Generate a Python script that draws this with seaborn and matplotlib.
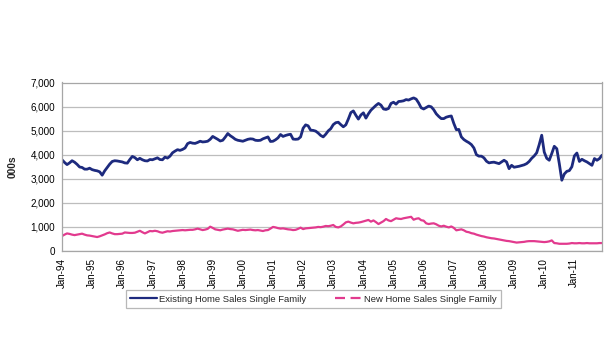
import matplotlib
matplotlib.use("Agg")
import matplotlib.pyplot as plt
from matplotlib.lines import Line2D
from matplotlib.ticker import FuncFormatter
import seaborn as sns
import pandas as pd
import numpy as np

# ---- data (monthly, Jan-94 .. Dec-11), thousands of units ----
start_year = 1994
n_years = 18
existing_home_sales = [
    3790, 3680, 3590, 3660, 3750, 3690, 3600, 3490, 3470, 3400, 3400, 3440,  # 1994
    3380, 3350, 3330, 3290, 3150, 3330, 3470, 3610, 3720, 3750, 3740, 3720,  # 1995
    3700, 3660, 3650, 3800, 3930, 3880, 3790, 3850, 3790, 3750, 3740, 3800,  # 1996
    3790, 3830, 3870, 3800, 3790, 3900, 3860, 3940, 4080, 4150, 4210, 4180,  # 1997
    4220, 4280, 4460, 4510, 4480, 4470, 4510, 4560, 4530, 4540, 4560, 4640,  # 1998
    4760, 4700, 4640, 4570, 4600, 4730, 4880, 4790, 4720, 4640, 4600, 4580,  # 1999
    4560, 4600, 4640, 4660, 4650, 4600, 4590, 4600, 4660, 4700, 4740, 4550,  # 2000
    4560, 4620, 4700, 4840, 4760, 4800, 4830, 4850, 4650, 4640, 4650, 4740,  # 2001
    5100, 5240, 5200, 5020, 5010, 4980, 4900, 4800, 4740, 4850, 4990, 5080,  # 2002
    5250, 5330, 5350, 5250, 5160, 5240, 5480, 5750, 5820, 5640, 5480, 5650,  # 2003
    5740, 5520, 5700, 5850, 5950, 6050, 6130, 6060, 5900, 5880, 5920, 6130,  # 2004
    6180, 6100, 6210, 6220, 6240, 6290, 6270, 6320, 6360, 6310, 6150, 5950,  # 2005
    5900, 5960, 6020, 5990, 5870, 5700, 5590, 5500, 5500, 5560, 5590, 5610,  # 2006
    5300, 5040, 5050, 4740, 4630, 4560, 4500, 4420, 4280, 4000, 3940, 3940,  # 2007
    3870, 3730, 3660, 3680, 3690, 3660, 3630, 3700, 3770, 3700, 3420, 3560,  # 2008
    3480, 3500, 3520, 3550, 3580, 3630, 3720, 3850, 3950, 4080, 4420, 4810,  # 2009
    4110, 3850, 3770, 4050, 4350, 4250, 3630, 2940, 3200, 3310, 3340, 3500,  # 2010
    3950, 4070, 3720, 3810, 3750, 3700, 3630, 3560, 3840, 3770, 3840, 3980,  # 2011
]
new_home_sales = [
    620, 680, 730, 710, 680, 660, 680, 700, 720, 680, 650, 640,              # 1994
    620, 600, 580, 610, 650, 690, 740, 770, 730, 700, 700, 710,              # 1995
    720, 770, 760, 750, 750, 760, 800, 840, 780, 730, 780, 830,              # 1996
    820, 840, 820, 780, 760, 790, 820, 810, 830, 840, 850, 860,              # 1997
    870, 860, 870, 880, 880, 900, 930, 900, 870, 890, 920, 1010,             # 1998
    960, 900, 880, 860, 890, 910, 930, 910, 900, 870, 840, 860,              # 1999
    880, 870, 880, 890, 870, 860, 870, 850, 830, 860, 870, 930,              # 2000
    1000, 980, 950, 930, 940, 920, 900, 890, 870, 880, 920, 970,             # 2001
    910, 940, 950, 960, 970, 980, 1000, 990, 1010, 1040, 1030, 1050,         # 2002
    1080, 1000, 980, 1020, 1100, 1190, 1220, 1180, 1150, 1170, 1180, 1200,   # 2003
    1230, 1260, 1290, 1220, 1270, 1200, 1120, 1180, 1240, 1330, 1270, 1240,  # 2004
    1300, 1360, 1340, 1330, 1360, 1380, 1400, 1420, 1300, 1340, 1360, 1280,  # 2005
    1260, 1150, 1120, 1140, 1150, 1110, 1050, 1020, 1050, 1010, 980, 1020,   # 2006
    960, 860, 880, 900, 860, 800, 780, 740, 720, 680, 650, 620,              # 2007
    600, 570, 550, 530, 520, 500, 480, 460, 440, 420, 410, 390,              # 2008
    370, 350, 360, 370, 380, 400, 410, 410, 410, 400, 390, 380,              # 2009
    370, 380, 400, 440, 330, 320, 300, 300, 300, 300, 310, 330,              # 2010
    320, 320, 330, 320, 320, 330, 320, 320, 320, 320, 330, 330,              # 2011
]
series_names = ["Existing Home Sales Single Family", "New Home Sales Single Family"]
series_colors = ["#1D2A7E", "#E23A8E"]
tick_labels = [f"Jan-{(start_year + i) % 100:02d}" for i in range(n_years)]
y_ticks = [0, 1000, 2000, 3000, 4000, 5000, 6000, 7000]

n_months = n_years * 12
assert len(existing_home_sales) == n_months and len(new_home_sales) == n_months

month_idx = np.arange(n_months)
df = pd.DataFrame({
    "month": np.concatenate([month_idx, month_idx]),
    "value": existing_home_sales + new_home_sales,
    "series": [series_names[0]] * n_months + [series_names[1]] * n_months,
})

# ---- style ----
sns.set_style("white")
plt.rcParams["font.family"] = ["Liberation Sans", "DejaVu Sans"]

fig = plt.figure(figsize=(6.15, 3.5), dpi=100)
ax = fig.add_axes([62 / 615, 1 - 251 / 350, (602 - 62) / 615, (251 - 82.5) / 350])

sns.lineplot(data=df, x="month", y="value", hue="series", hue_order=series_names,
             palette=series_colors, ax=ax, legend=False, linewidth=1.7)
for line, lw in zip(ax.get_lines(), [2.0, 1.6]):
    line.set_linewidth(lw)

ax.set_xlim(0, n_months - 1)
ax.set_ylim(0, 7000)
ax.set_yticks(y_ticks)
ax.yaxis.set_major_formatter(FuncFormatter(lambda v, p: f"{int(v):,}"))
ax.set_xticks(np.arange(0, n_months, 12))
ax.set_xticklabels(tick_labels, rotation=90)

ax.grid(axis="y", color="#BDBDBD", linewidth=0.9)
ax.grid(axis="x", visible=False)
ax.set_axisbelow(True)
for s in ax.spines.values():
    s.set_color("#A6A6A6")
    s.set_linewidth(0.9)
    s.set_visible(True)

ax.tick_params(axis="both", which="major", labelsize=7.1, colors="#000000",
               length=3, width=0.8, direction="out", pad=2)
ax.tick_params(axis="both", color="#A6A6A6")
ax.set_xlabel("")
ax.set_ylabel("000s", fontsize=7.4, fontweight="bold", labelpad=9)

handles = [
    Line2D([0], [0], color=series_colors[0], linewidth=1.6),
    Line2D([0], [0], color=series_colors[1], linewidth=1.6, linestyle=(0, (4.5, 2.5))),
]
leg = fig.legend(handles, series_names, loc="center", bbox_to_anchor=(313.5 / 615, 1 - 299 / 350),
                 ncol=2, fontsize=6.8, frameon=True, fancybox=False, handlelength=2.8,
                 handletextpad=0.3, columnspacing=3.0, borderpad=0.45, borderaxespad=0)
leg.get_frame().set_edgecolor("#A6A6A6")
leg.get_frame().set_linewidth(0.9)

fig.savefig("out.png", dpi=100)
